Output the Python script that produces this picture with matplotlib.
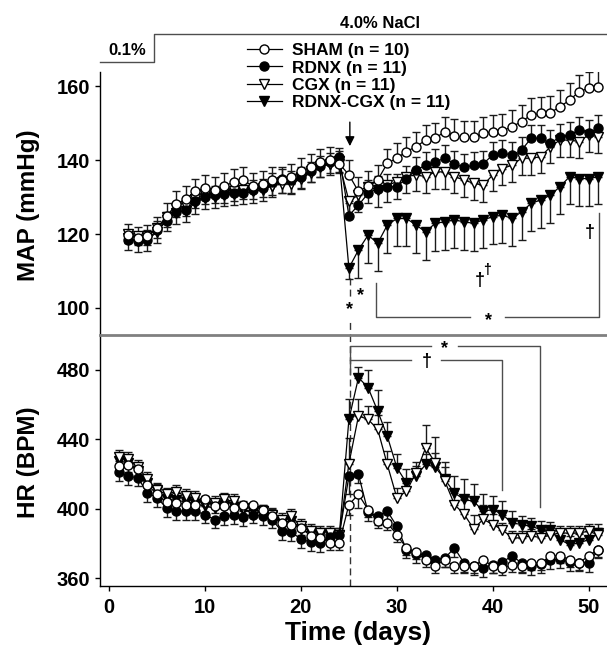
import numpy as np
import matplotlib
matplotlib.use('Agg')
import matplotlib.pyplot as plt
from matplotlib.lines import Line2D

plt.rcParams['font.family'] = ['Liberation Sans', 'DejaVu Sans']
plt.rcParams['font.weight'] = 'bold'

# ---------------- data ----------------
map_days = list(range(2, 52))
hr_days = list(range(1, 52))

map_sham = [119.8, 119.0, 119.5, 121.5, 124.8, 128.0, 129.5, 131.5, 132.5, 132.0, 133.0, 134.0,
            134.5, 133.0, 133.5, 134.5, 134.5, 135.5, 137.0, 138.0, 139.5, 140.0, 139.0,
            136.0, 131.5, 133.0, 134.6, 139.1, 140.5, 142.3, 143.6, 145.4, 145.9, 147.7, 146.5,
            146.1, 146.1, 147.2, 147.7, 147.9, 149.0, 150.4, 152.2, 152.6, 152.8, 154.4, 156.2,
            158.5, 159.4, 159.8]
map_rdnx = [118.5, 118.0, 118.5, 121.0, 123.5, 126.0, 126.5, 129.0, 130.0, 130.5, 130.8, 131.2,
            131.2, 132.0, 132.5, 134.0, 135.0, 134.5, 135.5, 137.0, 138.5, 139.5, 140.8,
            125.0, 127.8, 131.0, 132.3, 132.8, 132.8, 135.0, 137.3, 138.6, 139.5, 140.5, 139.0,
            138.0, 138.6, 139.0, 141.4, 141.8, 141.4, 142.7, 145.9, 145.9, 144.5, 146.3, 146.8,
            148.1, 147.2, 148.6]
map_cgx = [120.0, 119.5, 119.5, 121.5, 124.5, 127.0, 127.5, 129.5, 130.5, 131.0, 131.0, 131.5,
           132.0, 132.0, 132.5, 133.0, 133.5, 133.5, 135.0, 136.5, 138.0, 139.0, 139.0,
           129.0, 130.5, 132.8, 131.9, 133.2, 134.1, 135.5, 136.0, 135.5, 136.8, 136.8, 135.5,
           134.6, 133.7, 133.2, 136.0, 137.7, 138.6, 140.5, 140.5, 140.9, 143.6, 145.4, 145.4,
           145.0, 146.8, 146.3]
map_rdnx_cgx = [118.8, 118.2, 118.5, 120.5, 123.8, 125.8, 126.2, 128.5, 129.8, 130.0, 130.5, 130.8,
                131.0, 131.5, 132.0, 133.0, 134.0, 133.8, 135.3, 137.0, 138.5, 139.0, 139.8,
                110.8, 115.7, 119.7, 117.5, 122.4, 124.2, 124.2, 122.4, 120.6, 122.9, 123.3, 123.8,
                123.3, 122.9, 123.8, 124.7, 125.1, 124.2, 126.0, 128.3, 129.2, 130.5, 132.8, 135.5,
                135.0, 135.0, 135.5]

map_err_sham = [3.0] * 4 + [3.5] * 19 + [4.0] * 11 + [4.5] * 16
map_err_rdnx = [2.5] * 23 + [3.5] * 27
map_err_cgx = [2.5] * 23 + [4.5] * 27
map_err_rdnx_cgx = [3.0] * 23 + [3.0] + [7.5] * 26

hr_sham = [424.6, 425.0, 422.7, 414.0, 408.3, 403.8, 403.5, 402.5, 402.5, 405.4, 401.5, 401.5,
           400.6, 402.5, 402.5, 399.6, 395.8, 391.9, 391.0, 389.0, 384.6, 383.3, 380.4, 380.4,
           402.5, 408.3, 399.6, 392.9, 391.9, 385.2, 377.5, 375.0, 370.8, 366.9, 370.8, 366.9,
           366.9, 366.9, 370.8, 366.9, 366.0, 367.9, 366.9, 368.8, 368.8, 372.7, 373.1, 370.8,
           368.8, 373.1, 376.5]
hr_rdnx = [421.2, 418.8, 417.9, 409.2, 406.3, 400.6, 398.7, 398.7, 398.7, 396.7, 393.8, 395.8,
           396.2, 395.4, 396.7, 395.8, 393.8, 387.1, 386.5, 382.7, 380.8, 380.4, 384.0, 385.0,
           418.8, 419.8, 398.0, 395.8, 398.7, 390.0, 376.5, 374.0, 373.7, 370.8, 371.7, 377.5,
           368.8, 366.9, 366.0, 367.9, 369.2, 373.1, 368.8, 366.9, 368.0, 370.4, 371.0, 369.5,
           369.0, 368.8, 376.5]
hr_cgx = [430.0, 428.5, 424.2, 417.0, 411.0, 408.3, 410.0, 407.3, 406.3, 403.5, 403.5, 405.4,
          404.4, 400.6, 396.7, 398.5, 396.7, 393.8, 395.8, 390.0, 387.1, 386.2, 386.2, 385.2,
          426.0, 453.5, 451.5, 445.8, 425.6, 406.3, 410.2, 420.8, 435.2, 426.5, 416.0, 402.5,
          397.0, 388.5, 394.0, 391.0, 388.0, 383.3, 383.3, 384.6, 383.3, 385.0, 386.2, 386.0,
          386.2, 387.1, 385.0]
hr_rdnx_cgx = [427.5, 426.5, 422.0, 415.0, 410.5, 405.5, 405.0, 404.0, 403.0, 401.5, 400.5, 401.5,
               401.0, 399.5, 398.0, 398.5, 396.0, 392.0, 393.0, 388.5, 386.0, 385.0, 385.0, 385.0,
               451.5, 475.6, 469.8, 456.3, 441.9, 423.7, 415.0, 418.8, 425.6, 424.0, 417.0, 409.2,
               405.4, 404.4, 398.7, 399.6, 396.7, 391.9, 391.0, 390.0, 388.1, 387.7, 382.3, 379.4,
               380.4, 382.3, 386.2]

hr_err_sham = [4.0] * 24 + [6.0, 8.0] + [4.0] * 25
hr_err_rdnx = [5.0] * 24 + [10.0] + [5.0] * 26
hr_err_cgx = [4.0] * 24 + [15, 10, 8, 8, 8, 6, 6, 6, 13, 15, 8, 8, 8, 8, 8, 6] + [4.0] * 11
hr_err_rdnx_cgx = [4.0] * 24 + [12, 6, 10, 12, 8, 8, 8, 6, 6, 8, 10, 10, 12, 10, 10, 8, 8, 7] + [5.0] * 9

labels = ['SHAM (n = 10)', 'RDNX (n = 11)', 'CGX (n = 11)', 'RDNX-CGX (n = 11)']
markers = ['o', 'o', 'v', 'v']
faces = ['white', 'black', 'white', 'black']

# ---------------- layout ----------------
W, H = 607, 654
fig = plt.figure(figsize=(W / 100, H / 100), dpi=100)


def rect(x0, y0, x1, y1):
    return [x0 / W, 1 - y1 / H, (x1 - x0) / W, (y1 - y0) / H]


ax1 = fig.add_axes(rect(100, 72, 607, 335))
ax2 = fig.add_axes(rect(100, 335, 607, 586), sharex=ax1)

XMIN, XMAX = -0.94, 51.9
ax1.set_xlim(XMIN, XMAX)
ax1.set_ylim(92.7, 163.8)
ax2.set_ylim(355.6, 500.1)

ms = 6.5
ecol = '#1a1a1a'


def draw(ax, days, series, errs, dirs):
    order = [3, 2, 1, 0]
    for i in order:
        y = np.array(series[i])
        e = np.array(errs[i])
        if dirs[i] > 0:
            yerr = [np.zeros_like(e), e]
        else:
            yerr = [e, np.zeros_like(e)]
        ax.errorbar(days, y, yerr=yerr, fmt='none', ecolor=ecol, elinewidth=1.0,
                    capsize=3.2, capthick=1.0, zorder=2)
    for i in order:
        ax.plot(days, series[i], color='black', lw=0.9, marker=markers[i], mfc=faces[i],
                mec='black', mew=1.0, ms=ms, zorder=3)


draw(ax1, map_days, [map_sham, map_rdnx, map_cgx, map_rdnx_cgx],
     [map_err_sham, map_err_rdnx, map_err_cgx, map_err_rdnx_cgx], [1, 1, -1, -1])
draw(ax2, hr_days, [hr_sham, hr_rdnx, hr_cgx, hr_rdnx_cgx],
     [hr_err_sham, hr_err_rdnx, hr_err_cgx, hr_err_rdnx_cgx], [-1, -1, 1, 1])

# spines and ticks
for s in ['top', 'right', 'bottom']:
    ax1.spines[s].set_visible(False)
ax1.spines['left'].set_linewidth(1.0)
ax2.spines['right'].set_visible(False)
ax2.spines['top'].set_color('#808080')
ax2.spines['top'].set_linewidth(2.0)
ax2.spines['left'].set_linewidth(1.0)
ax2.spines['bottom'].set_linewidth(1.0)

ax1.set_yticks([100, 120, 140, 160])
ax2.set_yticks([360, 400, 440, 480])
ax2.set_xticks([0, 10, 20, 30, 40, 50])
ax1.tick_params(axis='x', bottom=False, labelbottom=False)
for ax in (ax1, ax2):
    ax.tick_params(axis='y', direction='out', length=3.5, width=1, labelsize=14.5, pad=3.5)
ax2.tick_params(axis='x', direction='out', length=3.5, width=1, labelsize=14.5, pad=5)
for ax in (ax1, ax2):
    for lab in ax.get_yticklabels() + ax.get_xticklabels():
        lab.set_fontweight('bold')

fig.text(29 / W, 1 - 205 / H, 'MAP (mmHg)', rotation=90, ha='center', va='center',
         fontsize=17.5, fontweight='bold')
fig.text(29 / W, 1 - 462 / H, 'HR (BPM)', rotation=90, ha='center', va='center',
         fontsize=17.5, fontweight='bold')
fig.text(358 / W, 1 - 633 / H, 'Time (days)', ha='center', va='center',
         fontsize=19, fontweight='bold')

# dashed vertical line at the start of intervention
DAY_MARK = 25.1
ax1.plot([DAY_MARK, DAY_MARK], [108.0, 92.7], color='#333', lw=1.0, dashes=(5, 3), zorder=1)
ax2.plot([DAY_MARK, DAY_MARK], [355.6, 500.1], color='#333', lw=1.0, dashes=(5, 3), zorder=1)

# salt protocol line above the top panel
lc = '#4d4d4d'
ax1.plot([XMIN, 4.7, 4.7, XMAX], [166.5, 166.5, 174.1, 174.1], color=lc, lw=1.0, clip_on=False)
ax1.text(1.9, 169.6, '0.1%', ha='center', va='center', fontsize=12, fontweight='bold')
ax1.text(28.2, 176.9, '4.0% NaCl', ha='center', va='center', fontsize=12, fontweight='bold')

# arrow
ax1.annotate('', xy=(DAY_MARK, 143.0), xytext=(DAY_MARK, 151.0),
             arrowprops=dict(arrowstyle='-|>', color='black', lw=1.0, mutation_scale=14))

# stats annotations top panel
ax1.text(DAY_MARK, 99.6, '*', ha='center', va='center', fontsize=13, fontweight='bold',
         bbox=dict(facecolor='white', edgecolor='none', pad=0.5))
ax1.text(26.2, 103.3, '*', ha='center', va='center', fontsize=13, fontweight='bold')
ax1.plot([27.8, 27.8, 37.6], [106.8, 97.6, 97.6], color=lc, lw=1.0)
ax1.plot([41.3, 51.1, 51.1], [97.6, 97.6, 125.7], color=lc, lw=1.0)
ax1.text(39.5, 96.6, '*', ha='center', va='center', fontsize=13, fontweight='bold')
ax1.text(38.6, 107.5, '†', ha='center', va='center', fontsize=13, fontweight='bold')
ax1.text(39.4, 110.2, '†', ha='center', va='center', fontsize=10, fontweight='bold')
ax1.text(50.1, 120.5, '†', ha='center', va='center', fontsize=13, fontweight='bold')

# stats annotations bottom panel
ax2.plot([DAY_MARK, DAY_MARK, 33.6], [477.5, 493.5, 493.5], color=lc, lw=1.0)
ax2.plot([36.4, 44.9, 44.9], [493.5, 493.5, 400.8], color=lc, lw=1.0)
ax2.text(35.0, 492.5, '*', ha='center', va='center', fontsize=13, fontweight='bold')
ax2.plot([DAY_MARK, 31.5], [485.7, 485.7], color=lc, lw=1.0)
ax2.plot([34.6, 41.0, 41.0], [485.7, 485.7, 411.1], color=lc, lw=1.0)
ax2.text(33.1, 485.0, '†', ha='center', va='center', fontsize=13, fontweight='bold')

# legend
handles = [Line2D([0], [0], color='black', lw=0.9, marker=markers[i], mfc=faces[i],
                  mec='black', mew=1.0, ms=ms) for i in range(4)]
leg = ax1.legend(handles, labels, loc='upper left', bbox_to_anchor=(247 / W, 1 - 43 / H),
                 bbox_transform=fig.transFigure, frameon=False,
                 handlelength=2.0, handletextpad=0.6, labelspacing=0.13,
                 borderpad=0, borderaxespad=0, prop={'weight': 'bold', 'size': 12.5})

fig.savefig('out.png', dpi=100)
